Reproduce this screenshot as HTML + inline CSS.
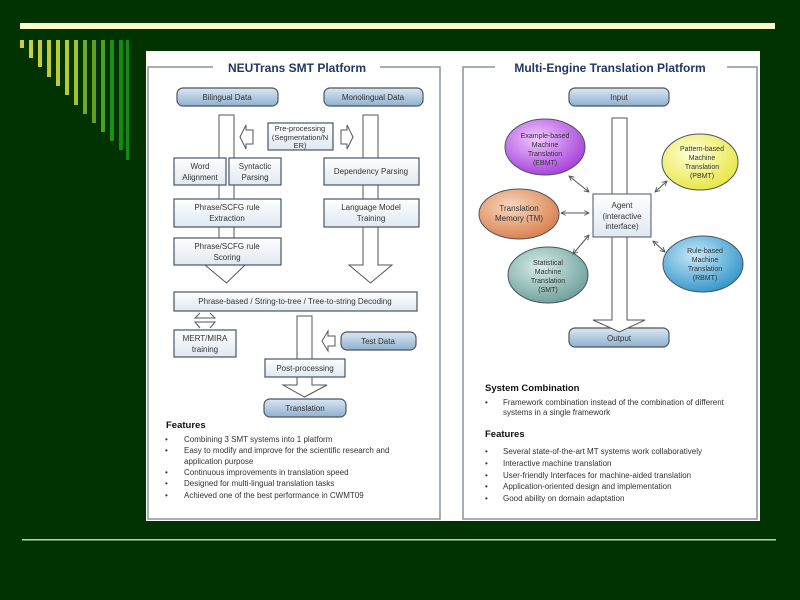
<!DOCTYPE html>
<html><head><meta charset="utf-8"><style>
html,body{margin:0;padding:0;background:#003300;width:800px;height:600px;overflow:hidden}
svg{display:block}
text{font-family:"Liberation Sans",Arial,sans-serif}
</style></head><body>
<svg width="800" height="600" viewBox="0 0 800 600" xmlns="http://www.w3.org/2000/svg">
<defs>
<linearGradient id="rb" x1="0" y1="0" x2="0" y2="1"><stop offset="0" stop-color="#dbe7f3"/><stop offset="1" stop-color="#8fb0cf"/></linearGradient>
<linearGradient id="bx" x1="0" y1="0" x2="0" y2="1"><stop offset="0" stop-color="#ffffff"/><stop offset="1" stop-color="#dfe8f1"/></linearGradient>
<radialGradient id="gP" cx="0.4" cy="0.35" r="0.7"><stop offset="0" stop-color="#f0c8ff"/><stop offset="1" stop-color="#a23cd8"/></radialGradient>
<radialGradient id="gY" cx="0.4" cy="0.35" r="0.7"><stop offset="0" stop-color="#ffffd8"/><stop offset="1" stop-color="#e6e640"/></radialGradient>
<radialGradient id="gO" cx="0.4" cy="0.35" r="0.7"><stop offset="0" stop-color="#f8d8c0"/><stop offset="1" stop-color="#d87c48"/></radialGradient>
<radialGradient id="gT" cx="0.4" cy="0.35" r="0.7"><stop offset="0" stop-color="#d8ece8"/><stop offset="1" stop-color="#6a9e98"/></radialGradient>
<radialGradient id="gB" cx="0.4" cy="0.35" r="0.7"><stop offset="0" stop-color="#c8e8f8"/><stop offset="1" stop-color="#2f94c8"/></radialGradient>
<marker id="ah" viewBox="0 0 10 10" refX="9" refY="5" markerWidth="6" markerHeight="6" orient="auto-start-reverse"><path d="M1,1 L9,5 L1,9" fill="none" stroke="#555" stroke-width="1.5"/></marker>
</defs>
<rect x="20" y="23" width="755" height="6" fill="#fdfbc8"/>
<g>
<rect x="20" y="40" width="4" height="8" fill="#c8d040"/>
<rect x="29" y="40" width="4" height="18" fill="#c8d040"/>
<rect x="38" y="40" width="4" height="27" fill="#c4ce3c"/>
<rect x="47" y="40" width="4" height="37" fill="#c0cc3a"/>
<rect x="56" y="40" width="4" height="46" fill="#bcca38"/>
<rect x="65" y="40" width="4" height="55" fill="#b8c836"/>
<rect x="74" y="40" width="4" height="65" fill="#a0c030"/>
<rect x="83" y="40" width="4" height="74" fill="#70a828"/>
<rect x="92" y="40" width="4" height="83" fill="#60a020"/>
<rect x="101" y="40" width="4" height="92" fill="#50a020"/>
<rect x="110" y="40" width="4" height="101" fill="#1a9018"/>
<rect x="119" y="40" width="4" height="110" fill="#108c10"/>
<rect x="126" y="40" width="3" height="120" fill="#108c10"/>
</g>
<rect x="22" y="539" width="754" height="1.5" fill="#b8d8a8"/>
<rect x="146" y="51" width="614" height="470" fill="#ffffff"/>
<g fill="none" stroke="#8a949c" stroke-width="1.5">
<path d="M213,67 H148 V519 H440 V67 H380"/>
<path d="M495,67 H463 V519 H757 V67 H727"/>
</g>
<text x="297" y="72" font-size="12" font-weight="bold" fill="#1f3864" text-anchor="middle">NEUTrans SMT Platform</text>
<text x="610" y="72" font-size="12" font-weight="bold" fill="#1f3864" text-anchor="middle">Multi-Engine Translation Platform</text>

<g font-size="8" fill="#333" text-anchor="middle">
<g fill="#fff" stroke="#555" stroke-width="1">
<path d="M219,115 H234 V265 H245 L226.5,283 L205,265 H219 Z"/>
<path d="M363,115 H378 V265 H392 L370.5,283 L349,265 H363 Z"/>
<path d="M297,316 H312 V385 H327 L304.5,397 L283,385 H297 Z"/>
<path d="M253,130 H246 V125 L240,137 L246,149 V144 H253 Z"/>
<path d="M341,130 H347 V125 L353,137 L347,149 V144 H341 Z"/>
<path d="M335,336 H328 V331 L322,341 L328,351 V346 H335 Z"/>
<path d="M200,313 L195,318 H215 L210,313 M200,328 L195,322 H215 L210,328" />
</g>
<g stroke="#4a5560" stroke-width="1.2">
<rect x="177" y="88" width="101" height="18" rx="6" fill="url(#rb)"/>
<rect x="324" y="88" width="99" height="18" rx="6" fill="url(#rb)"/>
<rect x="341" y="332" width="75" height="18" rx="6" fill="url(#rb)"/>
<rect x="264" y="399" width="82" height="18" rx="6" fill="url(#rb)"/>
<rect x="569" y="88" width="100" height="18" rx="6" fill="url(#rb)"/>
<rect x="569" y="328" width="100" height="19" rx="6" fill="url(#rb)"/>
<rect x="268" y="123" width="65" height="27" fill="url(#bx)"/>
<rect x="174" y="158" width="52" height="27" fill="url(#bx)"/>
<rect x="229" y="158" width="52" height="27" fill="url(#bx)"/>
<rect x="324" y="158" width="95" height="27" fill="url(#bx)"/>
<rect x="174" y="199" width="107" height="28" fill="url(#bx)"/>
<rect x="324" y="199" width="95" height="28" fill="url(#bx)"/>
<rect x="174" y="238" width="107" height="27" fill="url(#bx)"/>
<rect x="174" y="292" width="243" height="19" fill="url(#bx)"/>
<rect x="174" y="330" width="62" height="27" fill="url(#bx)"/>
<rect x="265" y="359" width="80" height="18" fill="url(#bx)"/>
</g>
<text x="227" y="100">Bilingual Data</text>
<text x="373" y="100">Monolingual Data</text>
<text x="300" y="131" font-size="7.5">Pre-processing</text>
<text x="300" y="140" font-size="7.5">(Segmentation/N</text>
<text x="300" y="148" font-size="7.5">ER)</text>
<text x="200" y="169">Word</text><text x="200" y="180">Alignment</text>
<text x="255" y="169">Syntactic</text><text x="255" y="180">Parsing</text>
<text x="371" y="174">Dependency Parsing</text>
<text x="227" y="210">Phrase/SCFG rule</text><text x="227" y="221">Extraction</text>
<text x="371" y="210">Language Model</text><text x="371" y="221">Training</text>
<text x="227" y="249">Phrase/SCFG rule</text><text x="227" y="260">Scoring</text>
<text x="295" y="304">Phrase-based / String-to-tree / Tree-to-string Decoding</text>
<text x="205" y="341">MERT/MIRA</text><text x="205" y="352">training</text>
<text x="378" y="344">Test Data</text>
<text x="305" y="371">Post-processing</text>
<text x="305" y="411">Translation</text>
</g>
<path d="M612,118 H627 V320 H645 L619.5,332 L593,320 H612 Z" fill="#fff" stroke="#555"/>
<g stroke="#4a5560" stroke-width="1">
<ellipse cx="545" cy="147" rx="40" ry="28" fill="url(#gP)"/>
<ellipse cx="700" cy="162" rx="38" ry="28" fill="url(#gY)"/>
<ellipse cx="519" cy="214" rx="40" ry="25" fill="url(#gO)"/>
<ellipse cx="548" cy="275" rx="40" ry="28" fill="url(#gT)"/>
<ellipse cx="703" cy="264" rx="40" ry="28" fill="url(#gB)"/>
<rect x="593" y="194" width="58" height="43" fill="url(#bx)"/>
</g>
<g stroke="#555" stroke-width="1" marker-start="url(#ah)" marker-end="url(#ah)">
<line x1="569" y1="176" x2="589" y2="192"/>
<line x1="561" y1="213" x2="589" y2="213"/>
<line x1="573" y1="254" x2="589" y2="235"/>
<line x1="655" y1="192" x2="667" y2="181"/>
<line x1="653" y1="241" x2="665" y2="252"/>
</g>
<g font-size="7" fill="#333" text-anchor="middle">
<text x="619" y="100" font-size="8">Input</text>
<text x="619" y="341" font-size="8">Output</text>
<text x="622" y="208" font-size="8">Agent</text>
<text x="622" y="219" font-size="8">(interactive</text>
<text x="622" y="229" font-size="8">interface)</text>
<text x="545" y="138">Example-based</text><text x="545" y="147">Machine</text><text x="545" y="156">Translation</text><text x="545" y="165">(EBMT)</text>
<text x="702" y="151">Pattern-based</text><text x="702" y="160">Machine</text><text x="702" y="169">Translation</text><text x="702" y="178">(PBMT)</text>
<text x="519" y="211" font-size="8">Translation</text><text x="519" y="221" font-size="8">Memory (TM)</text>
<text x="548" y="265">Statistical</text><text x="548" y="274">Machine</text><text x="548" y="283">Translation</text><text x="548" y="292">(SMT)</text>
<text x="705" y="253">Rule-based</text><text x="705" y="262">Machine</text><text x="705" y="271">Translation</text><text x="705" y="280">(RBMT)</text>
</g>
<g font-size="8" fill="#333">
<text x="166" y="428" font-size="9.5" font-weight="bold" fill="#111">Features</text>
<text x="165" y="442">•</text><text x="184" y="442">Combining 3 SMT systems into 1 platform</text>
<text x="165" y="453">•</text><text x="184" y="453">Easy to modify and improve for the scientific research and</text>
<text x="184" y="464">application purpose</text>
<text x="165" y="475">•</text><text x="184" y="475">Continuous improvements in translation speed</text>
<text x="165" y="486">•</text><text x="184" y="486">Designed for multi-lingual translation tasks</text>
<text x="165" y="498">•</text><text x="184" y="498">Achieved one of the best performance in CWMT09</text>
<text x="485" y="391" font-size="9.5" font-weight="bold" fill="#111">System Combination</text>
<text x="485" y="405">•</text><text x="503" y="405">Framework combination instead of the combination of different</text>
<text x="503" y="415">systems in a single framework</text>
<text x="485" y="437" font-size="9.5" font-weight="bold" fill="#111">Features</text>
<text x="485" y="454">•</text><text x="503" y="454">Several state-of-the-art MT systems work collaboratively</text>
<text x="485" y="466">•</text><text x="503" y="466">Interactive machine translation</text>
<text x="485" y="478">•</text><text x="503" y="478">User-friendly Interfaces for machine-aided translation</text>
<text x="485" y="489">•</text><text x="503" y="489">Application-oriented design and implementation</text>
<text x="485" y="501">•</text><text x="503" y="501">Good ability on domain adaptation</text>
</g>
</svg>
</body></html>
